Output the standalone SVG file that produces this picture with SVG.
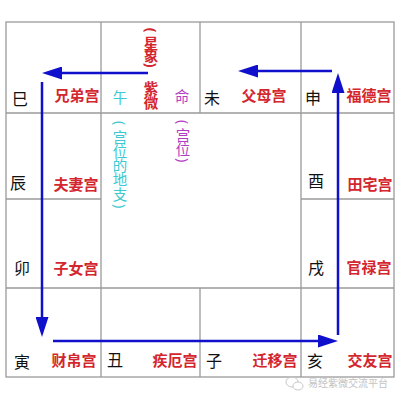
<svg xmlns="http://www.w3.org/2000/svg" width="400" height="400" viewBox="0 0 400 400">
<defs>
<style>
.g{stroke:#9a9a9a;stroke-width:1.3;fill:none}
.br{font-family:"Noto Sans CJK SC","Noto Sans",sans-serif;font-size:16px;fill:#111;text-anchor:middle;dominant-baseline:central}
.p{font-family:"Noto Sans CJK SC","Noto Sans",sans-serif;font-size:15px;font-weight:bold;fill:#d4262e;text-anchor:middle;dominant-baseline:central}
.h{font-family:"Noto Sans CJK SC","Noto Sans",sans-serif;font-size:14.5px;text-anchor:middle;dominant-baseline:central}
.par{font-family:"Noto Sans","DejaVu Sans",sans-serif;font-size:14px;text-anchor:middle;dominant-baseline:central}
.red{fill:#d4262e;font-weight:bold}
.cy{fill:#3cc9cf}
.pu{fill:#b23ec4}
.a{stroke:#1010cc;stroke-width:2.5;fill:none;marker-end:url(#ah)}
.wm{font-family:"Noto Sans CJK SC",sans-serif;font-size:10px;fill:#c4c4c4}
</style>
<marker id="ah" markerUnits="userSpaceOnUse" markerWidth="20" markerHeight="13" refX="0" refY="6.5" orient="auto">
<path d="M0,0 L20,6.5 L0,13 z" fill="#1010cc"/>
</marker>
</defs>
<rect width="400" height="400" fill="#fff"/>
<g id="grid">
<rect class="g" x="6" y="22" width="388" height="355"/>
<line class="g" x1="6" y1="113" x2="394" y2="113"/>
<line class="g" x1="6" y1="199" x2="101" y2="199"/>
<line class="g" x1="301" y1="199" x2="394" y2="199"/>
<line class="g" x1="6" y1="288" x2="394" y2="288"/>
<line class="g" x1="101" y1="22" x2="101" y2="377"/>
<line class="g" x1="301" y1="22" x2="301" y2="377"/>
<line class="g" x1="200" y1="22" x2="200" y2="113"/>
<line class="g" x1="200" y1="288" x2="200" y2="377"/>
</g>
<g id="connectors">
<line class="a" x1="148" y1="73" x2="62" y2="73"/>
<line class="a" x1="42" y1="82" x2="42" y2="317"/>
<line class="a" x1="53" y1="341" x2="318" y2="341"/>
<line class="a" x1="338" y1="335" x2="338" y2="93"/>
<line class="a" x1="332" y1="71" x2="258" y2="71"/>
</g>
<g id="si"><text class="br" x="20" y="98">巳</text><text class="p" x="77" y="94">兄弟宫</text></g>
<g id="wu">
<text class="h cy" x="120" y="96">午</text>
<text class="par red" x="151" y="30" transform="rotate(90 151 30)">(</text>
<text class="h red" font-size="12.5" x="151 151" y="42 54">星象</text>
<text class="par red" x="151" y="65" transform="rotate(90 151 65)">)</text>
<text class="h red" font-size="14" x="151 151" y="87 101">紫微</text>
<text class="h pu" x="182" y="95">命</text>
</g>
<g id="wei"><text class="br" x="212" y="97">未</text><text class="p" x="264" y="94">父母宫</text></g>
<g id="shen"><text class="br" x="313" y="97">申</text><text class="p" x="369" y="94">福德宫</text></g>
<g id="chen"><text class="br" x="18" y="182">辰</text><text class="p" x="76" y="183">夫妻宫</text></g>
<g id="you"><text class="br" x="316" y="180">酉</text><text class="p" x="370" y="183">田宅宫</text></g>
<g id="mao"><text class="br" x="22" y="267">卯</text><text class="p" x="76" y="267">子女宫</text></g>
<g id="xu"><text class="br" x="316" y="267">戌</text><text class="p" x="369" y="266">官禄宫</text></g>
<g id="yin"><text class="br" x="22" y="361">寅</text><text class="p" x="74" y="359">财帛宫</text></g>
<g id="chou"><text class="br" x="115" y="359">丑</text><text class="p" x="175" y="359">疾厄宫</text></g>
<g id="zi"><text class="br" x="214" y="360">子</text><text class="p" x="275" y="359">迁移宫</text></g>
<g id="hai"><text class="br" x="315" y="360">亥</text><text class="p" x="370" y="359">交友宫</text></g>
<g id="center-labels">
<text class="par cy" x="120" y="123" transform="rotate(90 120 123)">(</text>
<text class="h cy" font-size="14" x="120 120 120 120 120" y="136 150 164 178.5 193">宫位的地支</text>
<text class="par cy" x="120" y="206" transform="rotate(90 120 206)">)</text>
<text class="par pu" x="183" y="122" transform="rotate(90 183 122)">(</text>
<text class="h pu" font-size="14" x="183 183" y="134 148.5">宫位</text>
<text class="par pu" x="183" y="160" transform="rotate(90 183 160)">)</text>
</g>
<g id="watermark">
<ellipse cx="292" cy="382" rx="6" ry="5" fill="none" stroke="#c8c8c8" stroke-width="1"/>
<ellipse cx="298" cy="386" rx="5" ry="4" fill="#fff" stroke="#c8c8c8" stroke-width="1"/>
<text class="wm" x="308" y="387">易经紫微交流平台</text>
</g>
</svg>
